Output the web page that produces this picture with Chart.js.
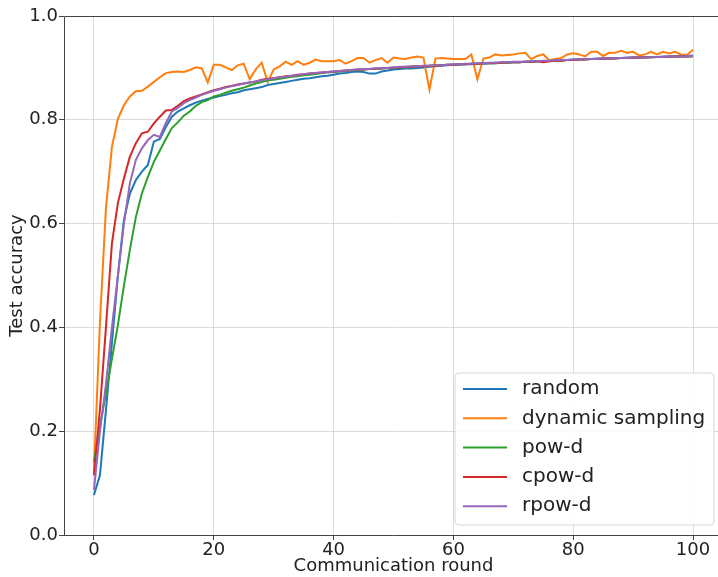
<!DOCTYPE html>
<html>
<head>
<meta charset="utf-8">
<script src="https://cdn.jsdelivr.net/npm/chart.js@4.4.1/dist/chart.umd.min.js"></script>
<style>
html,body{margin:0;padding:0;background:#fff;overflow:hidden;width:718px;height:577px;}
canvas{display:block;}
</style>
</head>
<body>
<canvas id="c" width="730" height="577"></canvas>
<script>
const rounds = Array.from({length: 101}, (_, i) => i);
const xTicks = [0, 20, 40, 60, 80, 100];
const yTicks = [0.0, 0.2, 0.4, 0.6, 0.8, 1.0];
const seriesNames = ["random", "dynamic sampling", "pow-d", "cpow-d", "rpow-d"];
const seriesColors = ["#1f77b4", "#ff7f0e", "#2ca02c", "#d62728", "#9467bd"];

const random = [
0.077,0.115,0.240,0.370,0.500,0.607,0.658,0.684,0.700,0.713,0.758,
0.763,0.786,0.806,0.816,0.822,0.828,0.833,0.837,0.840,0.843,
0.846,0.848,0.851,0.853,0.857,0.859,0.861,0.863,0.867,0.869,
0.871,0.873,0.875,0.877,0.879,0.880,0.882,0.884,0.885,0.887,
0.889,0.890,0.892,0.893,0.892,0.889,0.889,0.893,0.895,0.897,
0.898,0.899,0.899,0.900,0.901,0.902,0.903,0.904,0.905,0.906,
0.906,0.907,0.907,0.908,0.908,0.909,0.909,0.910,0.910,0.911,
0.911,0.912,0.912,0.913,0.913,0.914,0.914,0.915,0.915,0.916,
0.916,0.917,0.917,0.918,0.918,0.918,0.919,0.919,0.920,0.920,
0.920,0.921,0.921,0.921,0.922,0.922,0.922,0.923,0.923,0.924];

const dynamicSampling = [
0.122,0.410,0.630,0.748,0.802,0.828,0.845,0.855,0.856,0.864,0.873,
0.882,0.890,0.892,0.893,0.892,0.896,0.901,0.899,0.872,0.906,
0.906,0.901,0.896,0.905,0.908,0.878,0.897,0.910,0.873,0.897,
0.903,0.912,0.906,0.913,0.906,0.910,0.916,0.913,0.913,0.913,
0.915,0.908,0.913,0.919,0.919,0.910,0.915,0.919,0.910,0.920,
0.918,0.917,0.920,0.922,0.920,0.858,0.918,0.919,0.918,0.917,
0.917,0.917,0.926,0.878,0.918,0.920,0.926,0.924,0.925,0.926,
0.928,0.929,0.917,0.923,0.926,0.915,0.917,0.919,0.926,0.928,
0.926,0.922,0.931,0.931,0.923,0.929,0.929,0.933,0.929,0.931,
0.924,0.926,0.931,0.926,0.931,0.928,0.931,0.926,0.925,0.935];

const powD = [
0.141,0.209,0.273,0.339,0.405,0.480,0.550,0.613,0.658,0.690,0.719,
0.741,0.763,0.784,0.795,0.808,0.816,0.827,0.834,0.838,0.845,
0.848,0.852,0.856,0.859,0.862,0.866,0.870,0.873,0.876,0.877,
0.879,0.881,0.883,0.884,0.886,0.887,0.888,0.890,0.891,0.892,
0.893,0.894,0.895,0.896,0.897,0.898,0.898,0.899,0.900,0.900,
0.901,0.901,0.902,0.903,0.903,0.904,0.905,0.905,0.906,0.906,
0.907,0.907,0.908,0.908,0.909,0.909,0.909,0.910,0.910,0.911,
0.911,0.912,0.912,0.913,0.913,0.913,0.914,0.914,0.915,0.915,
0.916,0.916,0.917,0.917,0.917,0.918,0.918,0.919,0.919,0.919,
0.920,0.920,0.920,0.921,0.921,0.921,0.922,0.922,0.922,0.922];

const cpowD = [
0.115,0.242,0.400,0.562,0.640,0.687,0.729,0.755,0.774,0.777,0.793,
0.806,0.818,0.819,0.827,0.836,0.841,0.845,0.849,0.853,0.857,
0.860,0.863,0.865,0.868,0.870,0.872,0.874,0.877,0.879,0.880,
0.882,0.884,0.885,0.887,0.888,0.889,0.890,0.891,0.892,0.893,
0.894,0.895,0.896,0.897,0.897,0.898,0.899,0.899,0.900,0.901,
0.901,0.902,0.902,0.903,0.903,0.904,0.904,0.905,0.906,0.906,
0.907,0.907,0.908,0.908,0.909,0.909,0.910,0.910,0.911,0.911,
0.911,0.912,0.912,0.913,0.911,0.913,0.914,0.914,0.915,0.915,
0.916,0.916,0.917,0.917,0.918,0.918,0.918,0.919,0.919,0.920,
0.920,0.920,0.921,0.921,0.921,0.922,0.922,0.922,0.922,0.923];

const rpowD = [
0.087,0.200,0.290,0.400,0.500,0.600,0.678,0.723,0.745,0.761,0.771,
0.767,0.794,0.816,0.823,0.832,0.838,0.843,0.848,0.852,0.856,
0.859,0.862,0.865,0.867,0.870,0.872,0.874,0.876,0.878,0.880,
0.882,0.883,0.885,0.886,0.888,0.889,0.890,0.891,0.892,0.893,
0.894,0.895,0.896,0.897,0.898,0.898,0.899,0.900,0.900,0.901,
0.902,0.902,0.903,0.903,0.904,0.904,0.905,0.905,0.906,0.907,
0.907,0.908,0.908,0.909,0.909,0.910,0.910,0.911,0.911,0.912,
0.912,0.912,0.913,0.913,0.914,0.914,0.915,0.915,0.915,0.916,
0.916,0.917,0.917,0.917,0.918,0.918,0.919,0.919,0.919,0.920,
0.920,0.920,0.921,0.921,0.921,0.922,0.922,0.922,0.923,0.923];

const allSeries = [random, dynamicSampling, powD, cpowD, rpowD];
const FONT = "'DejaVu Sans', sans-serif";
const SPINE = "#444";

const datasets = allSeries.map((vals, i) => ({
  label: seriesNames[i],
  data: rounds.map((r, k) => ({x: r, y: vals[k]})),
  borderColor: seriesColors[i],
  backgroundColor: seriesColors[i],
  borderWidth: 2,
  pointRadius: 0,
  tension: 0,
  order: 5 - i
}));

const framePlugin = {
  id: 'frame',
  afterDraw(chart) {
    const ctx = chart.ctx, a = chart.chartArea;
    ctx.save();
    ctx.strokeStyle = SPINE;
    ctx.lineWidth = 1;
    ctx.beginPath();
    ctx.moveTo(a.left + 0.5, a.bottom + 0.5);
    ctx.lineTo(a.left + 0.5, a.top + 0.5);
    ctx.lineTo(a.right, a.top + 0.5);
    ctx.moveTo(a.left, a.bottom + 0.5);
    ctx.lineTo(a.right, a.bottom + 0.5);
    ctx.stroke();
    // legend
    const lx = 455, ly = 373, lw = 259, lh = 152, r = 4;
    ctx.beginPath();
    ctx.moveTo(lx + r, ly);
    ctx.arcTo(lx + lw, ly, lx + lw, ly + lh, r);
    ctx.arcTo(lx + lw, ly + lh, lx, ly + lh, r);
    ctx.arcTo(lx, ly + lh, lx, ly, r);
    ctx.arcTo(lx, ly, lx + lw, ly, r);
    ctx.closePath();
    ctx.fillStyle = 'rgba(255,255,255,0.85)';
    ctx.fill();
    ctx.strokeStyle = '#d6d6d6';
    ctx.stroke();
    ctx.font = "20px " + FONT;
    ctx.textBaseline = 'middle';
    ctx.textAlign = 'left';
    chart.data.datasets.forEach((ds, i) => {
      const yy = 389 + i * 29.3;
      ctx.strokeStyle = ds.borderColor;
      ctx.lineWidth = 2;
      ctx.beginPath();
      ctx.moveTo(463, yy);
      ctx.lineTo(507, yy);
      ctx.stroke();
      ctx.fillStyle = '#222';
      ctx.fillText(ds.label, 522, yy);
    });
    ctx.restore();
  }
};

new Chart(document.getElementById('c'), {
  type: 'line',
  data: { datasets },
  plugins: [framePlugin],
  options: {
    responsive: false,
    animation: false,
    layout: { padding: { top: 16, right: 7, left: 0, bottom: 0 } },
    plugins: { legend: { display: false }, tooltip: { enabled: false } },
    scales: {
      x: {
        type: 'linear',
        min: -5, max: 105,
        afterBuildTicks: (s) => { s.ticks = xTicks.map(v => ({value: v})); },
        afterFit: (s) => { s.height = 42; },
        border: { display: false },
        grid: { color: 'rgba(176,176,176,0.45)', lineWidth: 1, tickColor: SPINE, tickLength: 5 },
        ticks: { color: '#222', font: { family: FONT, size: 18 }, padding: 0, maxRotation: 0,
                 callback: (v) => String(v) },
        title: { display: true, text: 'Communication round', color: '#222',
                 font: { family: FONT, size: 18 }, padding: { top: 0, bottom: 0 } }
      },
      y: {
        type: 'linear',
        min: 0, max: 1,
        afterBuildTicks: (s) => { s.ticks = yTicks.map(v => ({value: v})); },
        afterFit: (s) => { s.width = 64; },
        border: { display: false },
        grid: { color: 'rgba(176,176,176,0.45)', lineWidth: 1, tickColor: SPINE, tickLength: 5 },
        ticks: { color: '#222', font: { family: FONT, size: 18 }, padding: 1,
                 callback: (v) => Number(v).toFixed(1) },
        title: { display: true, text: 'Test accuracy', color: '#222',
                 font: { family: FONT, size: 18 }, padding: { top: 7, bottom: 0 } }
      }
    }
  }
});
</script>
</body>
</html>
